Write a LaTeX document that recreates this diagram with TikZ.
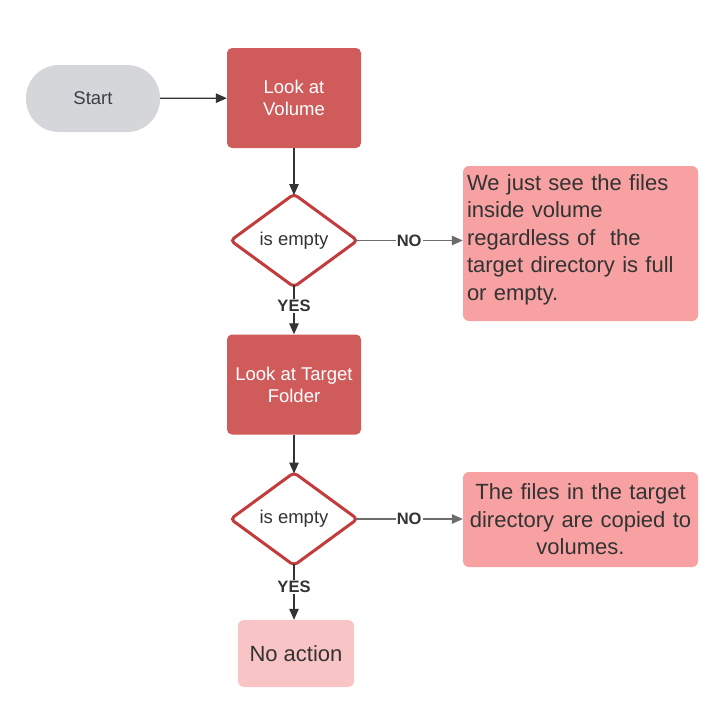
\documentclass[tikz,border=0pt]{standalone}
\usepackage{fontspec}
\setmainfont{Liberation Sans}
\usetikzlibrary{shapes.geometric,arrows.meta}
\definecolor{startgray}{HTML}{D5D6D9}
\definecolor{darkred}{HTML}{D05B5B}
\definecolor{pinkbox}{HTML}{F7A1A2}
\definecolor{lightpink}{HTML}{F9C4C5}
\definecolor{diastroke}{HTML}{C23B3D}
\definecolor{txt}{HTML}{333333}
\definecolor{starttxt}{HTML}{3A3F48}
\tikzset{
  x=1pt,y=-1pt,
  smallfont/.style={font=\fontsize{18.5}{22}\selectfont},
  bigfont/.style={font=\fontsize{22}{27.5}\selectfont},
  startbox/.style={draw=none,fill=startgray,rounded corners=33pt,minimum width=134pt,minimum height=67pt,text=starttxt,smallfont},
  redbox/.style={draw=none,fill=darkred,rounded corners=5pt,minimum width=134pt,minimum height=100pt,text=white,smallfont,align=center},
  decision/.style={diamond,draw=diastroke,line width=3pt,fill=white,rounded corners=4pt,minimum width=128pt,minimum height=94pt,aspect=1.37,inner sep=0pt,text=txt,smallfont},
  pinkbox/.style={draw=none,fill=pinkbox,rounded corners=6pt,text=txt,bigfont,inner sep=4pt},
  noact/.style={draw=none,fill=lightpink,rounded corners=6pt,minimum width=116pt,minimum height=67pt,text=txt,bigfont},
  arr/.style={draw=txt,line width=1.2pt,-{Triangle[length=11pt,width=9.5pt]}},
  grayarr/.style={draw=gray!85!black,line width=1.2pt,-{Triangle[length=11pt,width=9.5pt]}},
  lab/.style={fill=white,inner sep=1pt,text=txt,font=\fontsize{16.5}{18}\selectfont\bfseries}
}
\begin{document}
\begin{tikzpicture}
\useasboundingbox (0,0) rectangle (718,710);
\node[startbox] (start) at (93,98.5) {Start};
\node[redbox] (vol) at (294,98) {Look at\\Volume};
\node[decision] (d1) at (294,240.5) {is empty};
\node[pinkbox,text width=227pt,minimum height=155pt,align=left] (b1) at (580.5,243.5) {We just see the files\\inside volume\\regardless of\ \ the\\target directory is full\\or empty.\vspace{8pt}};
\node[redbox] (tgt) at (294,384.5) {Look at Target\\Folder};
\node[decision] (d2) at (294,519) {is empty};
\node[pinkbox,text width=227pt,minimum height=95pt,align=center] (b2) at (580.5,519.5) {The files in the target\\directory are copied to\\volumes.};
\node[noact] (na) at (296,653.5) {No action};
\coordinate (d1e) at ([xshift=-4pt]d1.east);
\coordinate (d1s) at ([yshift=4pt]d1.south);
\coordinate (d1n) at ([yshift=-3pt]d1.north);
\coordinate (d2e) at ([xshift=-4pt]d2.east);
\coordinate (d2s) at ([yshift=4pt]d2.south);
\coordinate (d2n) at ([yshift=-3pt]d2.north);

\draw[arr] (start) -- (vol);
\draw[arr] (vol) -- (d1n);
\draw[grayarr] (d1e) -- node[lab,pos=0.5]{NO} (b1.west |- d1e);
\draw[arr] (d1s) -- node[lab,pos=0.42]{YES} (tgt.north);
\draw[arr] (tgt) -- (d2n);
\draw[grayarr] (d2e) -- node[lab,pos=0.5]{NO} (b2.west |- d2e);
\draw[arr] (d2s) -- node[lab,pos=0.42]{YES} (d2s |- na.north);
\end{tikzpicture}
\end{document}
